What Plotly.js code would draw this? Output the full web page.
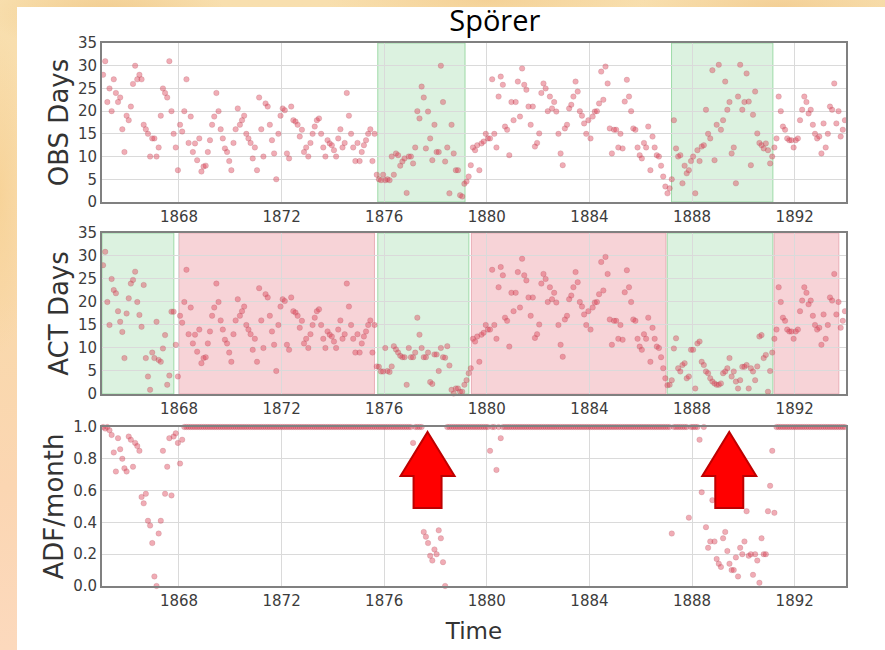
<!DOCTYPE html>
<html>
<head>
<meta charset="utf-8">
<script src="https://cdn.plot.ly/plotly-3.0.1.min.js"></script>
<style>
  html, body { margin: 0; padding: 0; }
  body {
    width: 885px; height: 650px; overflow: hidden; position: relative;
    background:
      radial-gradient(ellipse 120px 40px at 12% 2%, rgba(236,190,120,0.55), rgba(236,190,120,0) 100%),
      radial-gradient(ellipse 160px 30px at 55% 0%, rgba(240,196,128,0.5), rgba(240,196,128,0) 100%),
      radial-gradient(ellipse 140px 30px at 88% 1%, rgba(238,192,126,0.5), rgba(238,192,126,0) 100%),
      radial-gradient(ellipse 30px 160px at 0% 30%, rgba(246,206,140,0.6), rgba(246,206,140,0) 100%),
      linear-gradient(180deg, #f8dfae 0%, #f9d9ab 45%, #fbd6b2 75%, #fcd9bd 100%);
  }
  #sheet { position: absolute; left: 17px; top: 7px; width: 868px; height: 643px; background: #ffffff; }
  #chart { position: absolute; left: 0; top: 0; width: 885px; height: 650px; }
</style>
</head>
<body>
<div id="sheet"></div>
<div id="chart"></div>
<script>
// Monthly series, January 1865 through December 1893 (12 values per row)
const firstYear = 1865;

const obsDays = [
  28, 31, 22, 25, 20, 27, 24, 22, 23, 16, 11, 19,            // 1865
  18, 21, 26, 30, 27, 28, 27, 17, 16, 15, 10, 14,            // 1866
  14, 10, 12, 19, 25, 24, 23, 31, 20, 15, 12, 7,             // 1867
  17, 15.5, 20, 27, 13, 18.8, 11, 12.9, 9.2, 14, 6.7, 7.8,   // 1868
  8, 11, 13.6, 17, 18.8, 24, 20, 16, 14, 11.8, 11, 9,        // 1869
  7, 13, 16, 20.6, 17, 18, 19, 15, 14, 13, 9.6, 12,          // 1870
  7, 23, 16, 10, 21.7, 21, 17, 13.6, 10.7, 5, 15, 19,        // 1871
  20.6, 20.2, 10.7, 9.6, 21, 18, 17.7, 17, 14.4, 15.9, 11, 12, // 1872
  10, 13, 15, 16.6, 18, 18.4, 15, 12, 10, 13.6, 12.9, 12.5,  // 1873
  11.4, 10, 14, 16, 12, 13, 24, 19, 15, 12, 9, 13,           // 1874
  9, 11, 12.5, 13.6, 15, 16, 9, 15, 6, 5, 4.8, 6,            // 1875
  4.8, 5, 4.8, 10, 6, 10.7, 10.3, 8, 8.9, 9.6, 2, 10,        // 1876
  10, 8.5, 12, 20, 18.4, 25.4, 23, 11.8, 19.9, 14, 9.2, 17,  // 1877
  11, 11, 30, 22, 8.9, 12, 1.9, 17, 10.7, 7, 7, 1.5,         // 1878
  1.2, 4, 4.5, 5.6, 8.1, 12, 11.4, 12.5, 7, 12.9, 13.3, 15,  // 1879
  14, 14, 27, 15, 12, 23.2, 27.6, 25.8, 16.6, 15.9, 10.3, 22, // 1880
  18, 22, 26.5, 18.8, 29.4, 25.8, 24.7, 21, 17, 21, 12.2, 13, // 1881
  15.1, 24, 26.1, 25, 20, 23.2, 20.6, 22, 19.9, 15, 10.7, 8.1, // 1882
  16.2, 17, 20.6, 21.4, 23.2, 26.5, 24.3, 20, 19, 17.3, 15, 18, // 1883
  14, 18.8, 19.9, 20, 21.7, 28.7, 22.5, 29.8, 26.1, 16.2, 10.7, 15.9, // 1884
  15.9, 12, 15, 11.8, 22.1, 26.9, 23.2, 20, 16.2, 15.9, 12, 10.3, // 1885
  9.6, 13, 12, 16.6, 7, 14.4, 12, 10.3, 10, 8, 5.6, 3.4,     // 1886
  1.9, 3, 5, 18, 11.8, 10, 10.3, 4.1, 8, 6.3, 7, 9,          // 1887
  10, 1.9, 11.4, 9, 12.2, 12.5, 20.3, 15, 14, 29, 9.2, 17,   // 1888
  30.2, 15.9, 18, 26.5, 20.3, 22, 10.7, 12, 4.1, 23.2, 30.2, 20.3, // 1889
  22, 28.3, 22.1, 8.1, 19.2, 24.3, 15.1, 13, 12.5, 11.8, 12.9, 11.4, // 1890
  8.5, 10, 12, 14, 23.2, 20, 16.6, 15.9, 14, 13.6, 13.6, 12, // 1891
  13.6, 14, 18, 20.3, 23.2, 22, 19.5, 20.3, 17, 15, 14, 14.4, // 1892
  10.7, 17.3, 12, 15, 21, 20.3, 26.1, 17.3, 20, 14.4, 15.9, 18 // 1893
];

const actDays = [
  28, 30.9, 20, 15, 25, 22.6, 21.9, 18, 15.7, 13.5, 7.8, 17.5, // 1865
  20.8, 24, 24.8, 26.6, 20, 17.2, 14.6, 23.7, 7.8, 3.8, 0.9, 9, // 1866
  7.8, 15.7, 7.4, 7, 9.9, 12.8, 2, 4, 17.9, 17.9, 10.7, 3.8,  // 1867
  17, 15.5, 20, 27, 13, 18.8, 11, 12.9, 9.2, 14, 6.7, 7.8,   // 1868
  8, 11, 13.6, 17, 18.8, 24, 20, 16, 14, 11.8, 11, 9,        // 1869
  7, 13, 16, 20.6, 17, 18, 19, 15, 14, 13, 9.6, 12,          // 1870
  7, 23, 16, 10, 21.7, 21, 17, 13.6, 10.7, 5, 15, 19,        // 1871
  20.6, 20.2, 10.7, 9.6, 21, 18, 17.7, 17, 14.4, 15.9, 11, 12, // 1872
  10, 13, 15, 16.6, 18, 18.4, 15, 12, 10, 13.6, 12.9, 12.5,  // 1873
  11.4, 10, 14, 16, 12, 13, 24, 19, 15, 12, 9, 13,           // 1874
  9, 11, 12.5, 13.6, 15, 16, 9, 15, 6, 5.9, 4.9, 4.9,        // 1875
  10, 5, 4.8, 6, 10.4, 9.7, 9, 8.3, 8, 8, 2, 10,             // 1876
  8, 8, 9, 16.6, 12.9, 10, 8, 8, 9, 2.6, 2.2, 8.6,           // 1877
  8.6, 5, 10, 8, 7.9, 10.4, 6.2, 0.9, 0.1, 1.2, 1.2, 0.5,    // 1878
  0.5, 2, 3, 4.5, 5.6, 12, 11.4, 12.5, 7, 12.9, 13.3, 15,    // 1879
  14, 14, 27, 15, 12, 23.2, 27.6, 25.8, 16.6, 15.9, 10.3, 22, // 1880
  18, 22, 26.5, 18.8, 29.4, 25.8, 24.7, 21, 17, 21, 12.2, 13, // 1881
  15.1, 24, 26.1, 25, 20, 23.2, 20.6, 22, 19.9, 15, 10.7, 8.1, // 1882
  16.2, 17, 20.6, 21.4, 23.2, 26.5, 24.3, 20, 19, 17.3, 15, 18, // 1883
  14, 18.8, 19.9, 20, 21.7, 28.7, 22.5, 29.8, 26.1, 16.2, 10.7, 15.9, // 1884
  15.9, 12, 15, 11.8, 22.1, 26.9, 23.2, 20, 16.2, 15.9, 12, 10.3, // 1885
  9.6, 13, 12, 16.6, 7, 14.4, 12, 10.3, 10, 8, 5.6, 3.4,     // 1886
  1.9, 2, 3, 9.9, 12.1, 5.6, 4.9, 6.3, 6.7, 3.4, 3.8, 9.6,   // 1887
  9.6, 1.2, 11, 11.4, 7, 6.3, 4.9, 4.5, 3.4, 2.7, 2.3, 2,    // 1888
  2, 2.3, 4.5, 4.9, 5.6, 7.8, 3.8, 4.9, 2.7, 1.2, 3, 5.9,    // 1889
  5.9, 6.3, 1.2, 5.6, 4.9, 3, 6, 12.5, 12.8, 7.8, 8.5, 0.5,  // 1890
  5, 9, 12, 14, 23.2, 20, 16.6, 15.9, 14, 13.6, 13.6, 12,    // 1891
  13.6, 14, 18, 20.3, 23.2, 22, 19.5, 20.3, 17, 15, 14, 14.4, // 1892
  10.7, 17.3, 12, 15, 21, 20.3, 26.1, 17.3, 20, 14.4, 15.9, 18 // 1893
];

const adfMonth = [
  1, 0.99, 1, 0.98, 0.95, 0.84, 0.72, 0.93, 0.86, 0.8, 0.74, 0.72, // 1865
  0.94, 0.92, 0.75, 0.9, 0.88, 0.85, 0.56, 0.52, 0.58, 0.41, 0.38, 0.27, // 1866
  0.06, 0.0, 0.33, 0.41, 0.85, 0.58, 0.75, 0.93, 0.57, 0.94, 0.96, 0.9, // 1867
  0.77, 0.92, 1, 1, 1, 1, 1, 1, 1, 1, 1, 1,                  // 1868
  1, 1, 1, 1, 1, 1, 1, 1, 1, 1, 1, 1,                        // 1869
  1, 1, 1, 1, 1, 1, 1, 1, 1, 1, 1, 1,                        // 1870
  1, 1, 1, 1, 1, 1, 1, 1, 1, 1, 1, 1,                        // 1871
  1, 1, 1, 1, 1, 1, 1, 1, 1, 1, 1, 1,                        // 1872
  1, 1, 1, 1, 1, 1, 1, 1, 1, 1, 1, 1,                        // 1873
  1, 1, 1, 1, 1, 1, 1, 1, 1, 1, 1, 1,                        // 1874
  1, 1, 1, 1, 1, 1, 1, 1, 1, 1, 1, 1,                        // 1875
  1, 1, 1, 1, 1, 1, 1, 1, 1, 1, 1, 1,                        // 1876
  1, 0.9, 1, 1, 1, 1, 0.34, 0.31, 0.27, 0.19, 0.16, 0.23,    // 1877
  0.2, 0.35, 0.3, 0.15, 0.0, 1, 1, 1, 1, 1, 1, 1,            // 1878
  1, 1, 1, 1, 1, 1, 1, 1, 1, 1, 1, 1,                        // 1879
  1, 0.85, 1, 1, 0.73, 1, 0.93, 1, 1, 1, 1, 1,               // 1880
  1, 1, 1, 1, 1, 1, 1, 1, 1, 1, 1, 1,                        // 1881
  1, 1, 1, 1, 1, 1, 1, 1, 1, 1, 1, 1,                        // 1882
  1, 1, 1, 1, 1, 1, 1, 1, 1, 1, 1, 1,                        // 1883
  1, 1, 1, 1, 1, 1, 1, 1, 1, 1, 1, 1,                        // 1884
  1, 1, 1, 1, 1, 1, 1, 1, 1, 1, 1, 1,                        // 1885
  1, 1, 1, 1, 1, 1, 1, 1, 1, 1, 1, 1,                        // 1886
  1, 1, 0.33, 1, 1, 1, 1, 1, 1, 1, 0.43, 1,                  // 1887
  1, 1, 1, 0.92, 0.59, 1, 0.37, 0.24, 0.28, 0.54, 0.28, 0.17, // 1888
  0.14, 0.12, 0.3, 0.34, 0.22, 0.14, 0.1, 0.1, 0.18, 0.06, 0.24, 0.2, // 1889
  0.28, 0.47, 0.19, 0.2, 0.07, 0.2, 0.16, 0.02, 0.3, 0.2, 0.2, 0.47, // 1890
  0.63, 0.85, 0.46, 1, 1, 1, 1, 1, 1, 1, 1, 1,               // 1891
  1, 1, 1, 1, 1, 1, 1, 1, 1, 1, 1, 1,                        // 1892
  1, 1, 1, 1, 1, 1, 1, 1, 1, 1, 1, 1                         // 1893
];

// Quiet (green) and active (red) intervals, in decimal years
const obsQuiet = [[1875.75, 1879.15], [1887.2, 1891.15]];
const actQuiet = [[1865.0, 1867.8], [1875.75, 1879.3], [1887.03, 1891.15]];
const actActive = [[1868.0, 1875.62], [1879.4, 1886.98], [1891.2, 1893.72]];

// Years at which the ADF panel is flagged with arrows
const arrowYears = [1877.69, 1889.45];

const xTicks = [1868, 1872, 1876, 1880, 1884, 1888, 1892];

const monthTimes = obsDays.map((_, i) => firstYear + (i + 0.5) / 12);

const dotStyle = {
  size: 5.5,
  color: 'rgba(222,70,92,0.45)',
  line: { color: 'rgba(150,60,72,0.28)', width: 0.6 }
};

function series(values, xa, ya) {
  return {
    type: 'scatter', mode: 'markers',
    x: monthTimes, y: values, xaxis: xa, yaxis: ya,
    marker: dotStyle, cliponaxis: false, hoverinfo: 'x+y', showlegend: false
  };
}

const traces = [
  series(obsDays, 'x', 'y'),
  series(actDays, 'x2', 'y2'),
  series(adfMonth, 'x3', 'y3')
];

const green = 'rgba(214,240,218,0.85)';
const greenEdge = 'rgba(150,215,160,0.9)';
const pink = 'rgba(246,206,211,0.9)';
const pinkEdge = 'rgba(232,170,178,0.9)';

function band(span, xa, ya, fill, edge) {
  return {
    type: 'rect', layer: 'below', xref: xa, yref: ya + ' domain',
    x0: span[0], x1: span[1], y0: 0, y1: 1,
    fillcolor: fill, line: { color: edge, width: 1 }
  };
}

const shapes = [];
obsQuiet.forEach(s => shapes.push(band(s, 'x', 'y', green, greenEdge)));
actQuiet.forEach(s => shapes.push(band(s, 'x2', 'y2', green, greenEdge)));
actActive.forEach(s => shapes.push(band(s, 'x2', 'y2', pink, pinkEdge)));

// Upward block arrows pointing at the top of the ADF panel
arrowYears.forEach(yr => {
  shapes.push({
    type: 'path', layer: 'above',
    xref: 'x3', yref: 'y3', xsizemode: 'pixel', ysizemode: 'pixel',
    xanchor: yr, yanchor: 1.0,
    path: 'M 0,-5 L 27,-49 L 14,-49 L 14,-81 L -14,-81 L -14,-49 L -27,-49 Z',
    fillcolor: 'rgb(255,0,0)',
    line: { color: 'rgb(190,0,0)', width: 2 }
  });
});

const tickFont = { family: 'DejaVu Sans', size: 15, color: '#3c3c3c' };
const titleFont = { family: 'DejaVu Sans', size: 26, color: '#333333' };

function xAxis(anchor, withTitle) {
  const ax = {
    anchor: anchor, range: [1865.0, 1894.0], tickvals: xTicks,
    showgrid: true, gridcolor: '#dadada', gridwidth: 1, zeroline: false,
    showline: true, linecolor: '#808080', linewidth: 2, mirror: true,
    ticks: '', tickfont: tickFont, fixedrange: true
  };
  if (withTitle) ax.title = { text: 'Time', font: { family: 'DejaVu Sans', size: 23, color: '#333333' }, standoff: 14 };
  return ax;
}

function yAxis(anchor, domain, range, dtick, fmt, label) {
  return {
    anchor: anchor, domain: domain, range: range, dtick: dtick, tick0: 0, tickformat: fmt,
    showgrid: true, gridcolor: '#dadada', gridwidth: 1, zeroline: false,
    showline: true, linecolor: '#808080', linewidth: 2, mirror: true,
    ticks: '', tickfont: tickFont, fixedrange: true,
    title: { text: label, font: titleFont, standoff: 2 }
  };
}

const layout = {
  width: 885, height: 650,
  margin: { l: 102, r: 39, t: 43, b: 64 },
  paper_bgcolor: 'rgba(0,0,0,0)',
  plot_bgcolor: '#ffffff',
  title: {
    text: 'Spörer', font: { family: 'Open Sans', size: 29, color: '#000000' },
    x: 0.528, xanchor: 'center', xref: 'paper', y: 0.968, yanchor: 'middle'
  },
  xaxis: xAxis('y', false),
  xaxis2: xAxis('y2', false),
  xaxis3: xAxis('y3', true),
  yaxis: yAxis('x', [0.7072, 1.0], [0, 35], 5, '', 'OBS Days'),
  yaxis2: yAxis('x2', [0.3536, 0.6501], [0, 35], 5, '', 'ACT Days'),
  yaxis3: yAxis('x3', [0.0, 0.2928], [0, 1.0], 0.2, '.1f', 'ADF/month'),
  shapes: shapes,
  showlegend: false
};

Plotly.newPlot('chart', traces, layout, { displayModeBar: false, staticPlot: true });
</script>
</body>
</html>
